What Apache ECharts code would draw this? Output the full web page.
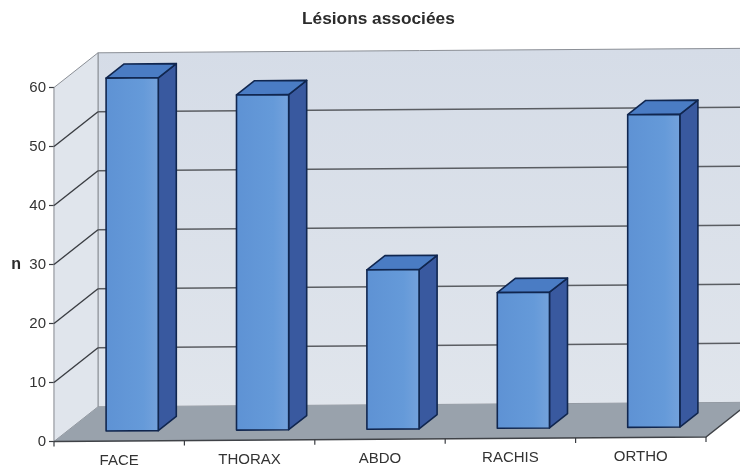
<!DOCTYPE html>
<html><head><meta charset="utf-8">
<style>html,body{margin:0;padding:0;background:#fff}#c{width:740px;height:466px;filter:blur(0.35px)}</style>
<script src="https://cdn.jsdelivr.net/npm/echarts@6/dist/echarts.min.js"></script>
</head><body><div id="c"></div>
<script>
const categories = ['FACE','THORAX','ABDO','RACHIS','ORTHO'];
const values = [59.8,56.8,27,23,53];
const yTicks = [0,10,20,30,40,50,60];
const titleText = 'Lésions associées';
const yName = 'n';

const DX = 44, DY = 34.7, SLOPE = 0.0069;
const D0 = 0.295, D1 = 0.705, BAR = 0.4;
const labelLift = [4,3,2,1,0];

function projector(api){
  const band = api.size([1,0])[0];
  const x0 = api.coord([0,0])[0] - band/2;
  return function(catPos, val, d){
    const c = api.coord([0,val]);
    const x = x0 + (catPos+0.5)*band;
    return [x + d*DX, c[1] - d*DY - (x-x0)*SLOPE];
  };
}
const ends = [-0.5, categories.length-0.5];

function renderWalls(params, api){
  const p = projector(api), a=ends[0], b=ends[1], top=yTicks[yTicks.length-1];
  return {type:'group',children:[
    {type:'polygon',shape:{points:[p(a,0,1),p(b,0,1),p(b,top,1),p(a,top,1)]},
     style:{fill:{type:'linear',x:0,y:0,x2:0,y2:1,colorStops:[{offset:0,color:'#d5dce7'},{offset:1,color:'#e0e5ec'}]},stroke:'#8b8f96',lineWidth:1}},
    {type:'polygon',shape:{points:[p(a,0,0),p(a,0,1),p(a,top,1),p(a,top,0)]},
     style:{fill:'#e0e5ec',stroke:'#8b8f96',lineWidth:1}},
    {type:'polygon',shape:{points:[p(a,0,0),p(b,0,0),p(b,0,1),p(a,0,1)]},
     style:{fill:'#99a2ac',stroke:'none'}}
  ]};
}
function renderGrid(params, api){
  const p = projector(api), v = api.value(0), a=ends[0], b=ends[1];
  if (v===0) return {type:'polyline',shape:{points:[p(b,0,1),p(b,0,0),p(a,0,0)]},style:{fill:'none',stroke:'#3f4247',lineWidth:1.4}};
  if (v===yTicks[yTicks.length-1]) return {type:'group',children:[]};
  return {type:'group',children:[
    {type:'line',shape:{x1:p(a,v,0)[0],y1:p(a,v,0)[1],x2:p(a,v,1)[0],y2:p(a,v,1)[1]},style:{stroke:'#3a3d42',lineWidth:1.4}},
    {type:'line',shape:{x1:p(a,v,1)[0],y1:p(a,v,1)[1],x2:p(b,v,1)[0],y2:p(b,v,1)[1]},style:{stroke:'#5a5d62',lineWidth:1.5}}
  ]};
}
function renderTick(params, api){
  const p = projector(api), i = api.value(0)-0.5;
  const s = p(i,0,0);
  return {type:'line',shape:{x1:s[0],y1:s[1],x2:s[0],y2:s[1]+5},style:{stroke:'#3a3d42',lineWidth:1.2}};
}
function renderBar(params, api){
  const p = projector(api), i=api.value(0), v=api.value(1);
  const L=i-BAR/2, R=i+BAR/2;
  const ln={stroke:'#10264f',lineWidth:1.6,lineJoin:'round'};
  return {type:'group',children:[
    {type:'polygon',shape:{points:[p(R,0,D0),p(R,0,D1),p(R,v,D1),p(R,v,D0)]},style:{fill:'#39599f',...ln}},
    {type:'polygon',shape:{points:[p(L,v,D0),p(R,v,D0),p(R,v,D1),p(L,v,D1)]},style:{fill:'#4a7cc4',...ln}},
    {type:'polygon',shape:{points:[p(L,0,D0),p(R,0,D0),p(R,v,D0),p(L,v,D0)]},
     style:{fill:{type:'linear',x:0,y:0,x2:1,y2:0,colorStops:[{offset:0,color:'#5e92d4'},{offset:0.7,color:'#659ad9'},{offset:1,color:'#74a2dc'}]},...ln}}
  ]};
}

const chart = echarts.init(document.getElementById('c'),null,{renderer:'canvas'});
chart.setOption({
  animation:false,
  backgroundColor:'#ffffff',
  title:{text:titleText,left:302,top:11,padding:0,
    textStyle:{fontFamily:'Liberation Sans',fontWeight:'bold',fontSize:17.3,color:'#2b2b2b'}},
  grid:{left:54,top:87.5,width:652,height:354,outerBoundsMode:'none',containLabel:false},
  xAxis:{type:'category',
    data:categories.map((c,i)=>({value:c,textStyle:{padding:[2+labelLift[i],0,0,0]}})),
    axisLine:{show:false},axisTick:{show:false},splitLine:{show:false},
    axisLabel:{margin:6,interval:0,fontFamily:'Liberation Sans',fontSize:15,color:'#333'}},
  yAxis:{type:'value',min:0,max:60,interval:10,
    name:yName,nameLocation:'middle',nameGap:33,nameRotate:0,
    nameTextStyle:{fontFamily:'Liberation Sans',fontWeight:'bold',fontSize:16,color:'#2b2b2b',padding:[3,0,0,0]},
    axisLine:{show:true,lineStyle:{color:'#3a3d42',width:1.2}},
    axisTick:{show:true,length:5,lineStyle:{color:'#3a3d42',width:1.2}},
    splitLine:{show:false},
    axisLabel:{margin:8,padding:[3,0,0,0],fontFamily:'Liberation Sans',fontSize:15,color:'#333'}},
  series:[
    {type:'custom',coordinateSystem:'cartesian2d',renderItem:renderWalls,data:[[0]],clip:false,silent:true,z:1},
    {type:'custom',coordinateSystem:'cartesian2d',renderItem:renderGrid,data:yTicks.map(v=>[v]),clip:false,silent:true,z:2},
    {type:'custom',coordinateSystem:'cartesian2d',renderItem:renderTick,data:[0,1,2,3,4,5].map(i=>[i]),clip:false,silent:true,z:2},
    {type:'custom',coordinateSystem:'cartesian2d',renderItem:renderBar,data:values.map((v,i)=>[i,v]),clip:false,z:3,encode:{x:0,y:1}}
  ]
});
</script></body></html>
